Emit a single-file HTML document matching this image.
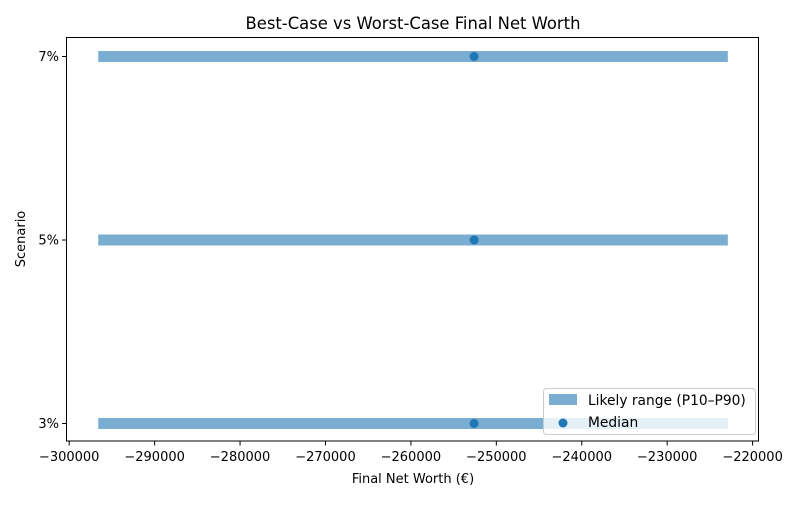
<!DOCTYPE html>
<html><head><meta charset="utf-8"><style>
body{margin:0;background:#fff;font-family:"Liberation Sans","DejaVu Sans",sans-serif;}
svg text{font-family:"DejaVu Sans","Liberation Sans",sans-serif;}
</style></head><body>
<svg id="chart" width="800" height="500">
<rect width="800" height="500" fill="#fff"/>
<text x="413" y="29" font-size="16.4" text-anchor="middle">Best-Case vs Worst-Case Final Net Worth</text>
<text x="413" y="483" font-size="13" text-anchor="middle">Final Net Worth (€)</text>
<text x="25" y="239" font-size="13" text-anchor="middle" transform="rotate(-90 25 239)">Scenario</text>
<g id="marks"></g>
<g id="axes"></g>
<rect x="66.5" y="37.5" width="692" height="403.5" fill="none" stroke="#000" stroke-width="1"/>
<g>
<rect x="543.5" y="388.5" width="212" height="46" rx="3" fill="#fff" fill-opacity="0.8" stroke="#ccc"/>
<rect x="549" y="394" width="28" height="11" fill="#1f77b4" fill-opacity="0.6"/>
<text x="588" y="405" font-size="13.8">Likely range (P10–P90)</text>
<circle cx="563" cy="423" r="4.5" fill="#1f77b4"/>
<text x="588" y="427" font-size="13.8">Median</text>
</g>
</svg>
<script>
const categories = ["3%", "5%", "7%"];
const p10 = [-296600, -296600, -296600];
const p90 = [-222900, -222900, -222900];
const medians = [-252600, -252600, -252600];
const xTicks = [-300000, -290000, -280000, -270000, -260000, -250000, -240000, -230000, -220000];

const NS = "http://www.w3.org/2000/svg";
function xs(v){ return 69.2 + (v + 300000) * (683.4 / 80000); }
function ys(i){ return 423.5 - i * 183.5; }
const marks = document.getElementById("marks");
const axes = document.getElementById("axes");
function mk(tag, attrs, parent){ const e=document.createElementNS(NS,tag); for(const k in attrs) e.setAttribute(k,attrs[k]); parent.appendChild(e); return e; }

categories.forEach((c,i)=>{
  const r = mk("rect",{x:xs(p10[i]),y:ys(i)-5.5,width:xs(p90[i])-xs(p10[i]),height:11,fill:"#1f77b4","fill-opacity":0.6},marks);
  
  
  const m = mk("circle",{cx:xs(medians[i]),cy:ys(i),r:4.5,fill:"#1f77b4"},marks);
  
  
  const t = mk("line",{x1:62,x2:66.5,y1:ys(i),y2:ys(i),stroke:"#000"},axes);
  
  
  const l = mk("text",{x:59,y:ys(i)+4.5,"font-size":13,"text-anchor":"end"},axes);
  l.textContent = c;
  
  
});
xTicks.forEach(v=>{
  const t = mk("line",{x1:xs(v),x2:xs(v),y1:441,y2:445.5,stroke:"#000"},axes);
  
  
  const l = mk("text",{x:xs(v),y:461,"font-size":13,"text-anchor":"middle"},axes);
  l.textContent = "\u2212" + Math.abs(v);
  
  
});
</script>
</body></html>
